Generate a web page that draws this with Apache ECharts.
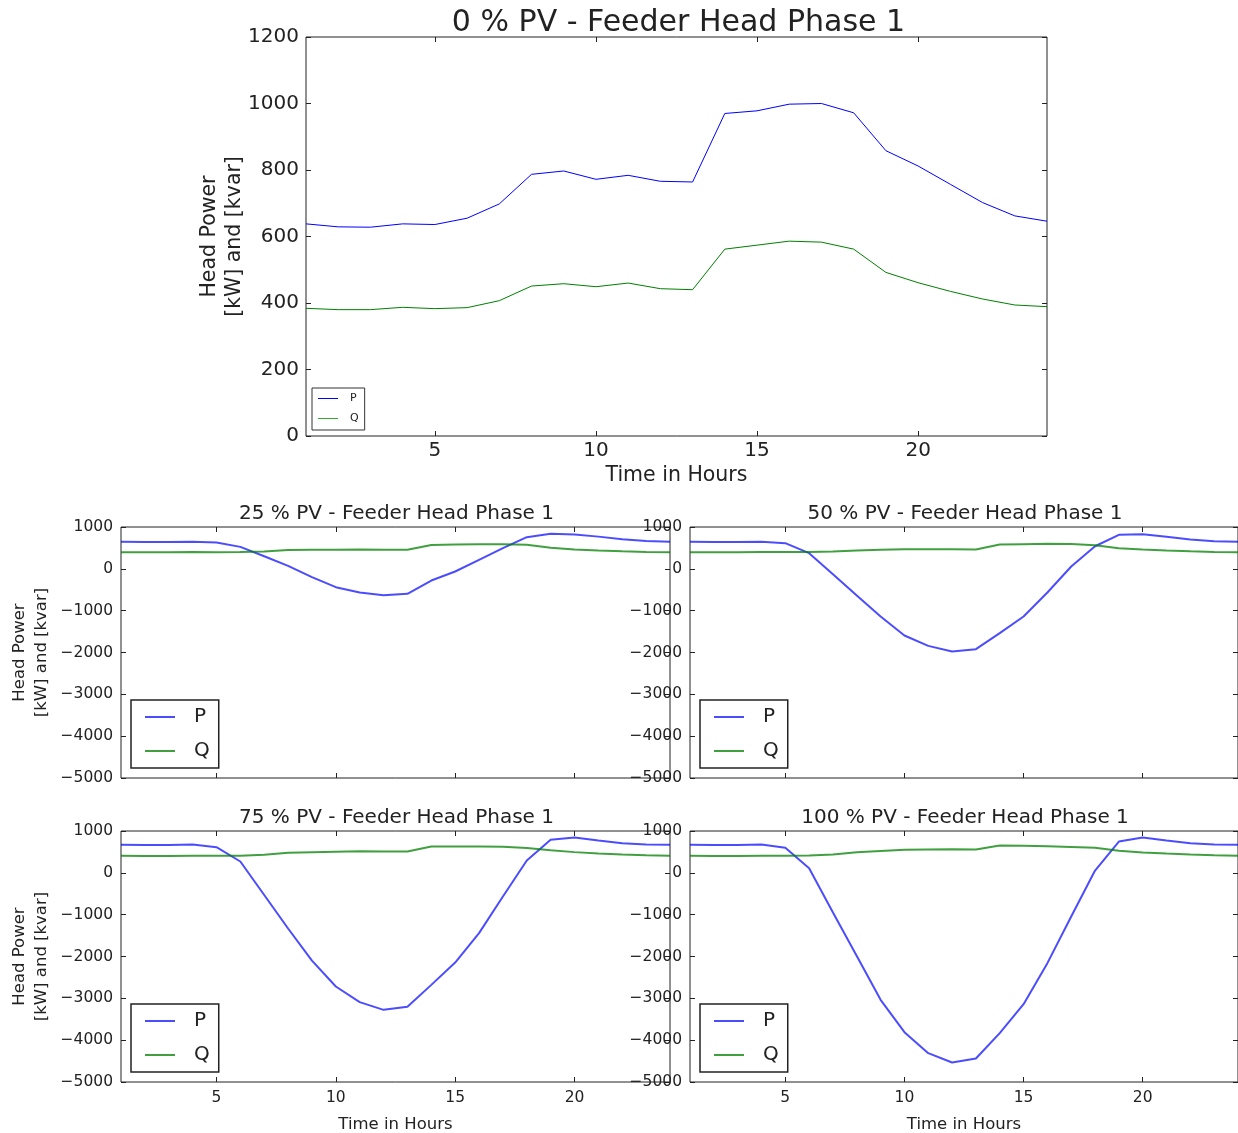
<!DOCTYPE html>
<html><head><meta charset="utf-8">
<script src="https://cdn.jsdelivr.net/npm/echarts@6/dist/echarts.min.js"></script>
<style>html,body{margin:0;padding:0;background:#fff}#c{width:1238px;height:1133px}</style>
</head><body><div id="c"></div>
<script>
const hours = [1,2,3,4,5,6,7,8,9,10,11,12,13,14,15,16,17,18,19,20,21,22,23,24];
const xTicks = [5,10,15,20];
const titles = ['0 % PV - Feeder Head Phase 1','25 % PV - Feeder Head Phase 1','50 % PV - Feeder Head Phase 1','75 % PV - Feeder Head Phase 1','100 % PV - Feeder Head Phase 1'];
const p0 = [638,629,628,638,636,655,698,787,797,772,784,766,764,970,978,998,1000,972,858,812,757,702,662,646];
const q0 = [384,380,380,387,383,386,407,451,458,449,460,443,440,562,574,586,583,562,492,461,435,412,394,389];
const p25 = [645,642,642,650,630,525,300,70,-200,-438,-566,-630,-598,-279,-64,215,494,757,837,821,770,710,665,645];
const q25 = [398,397,397,400,399,400,412,450,456,456,462,455,455,570,580,590,590,575,505,462,440,420,405,398];
const p50 = [645,642,642,650,614,375,-130,-640,-1140,-1594,-1841,-1976,-1920,-1538,-1140,-566,56,540,813,829,765,700,662,645];
const q50 = [399,398,398,400,400,402,415,440,455,470,470,468,462,582,590,598,592,566,494,462,440,420,405,399];
const p75 = [669,665,665,677,614,271,-530,-1330,-2100,-2718,-3091,-3275,-3203,-2678,-2144,-1442,-566,294,789,844,772,709,677,669];
const q75 = [406,405,405,408,407,410,430,478,495,505,515,512,508,628,630,628,622,595,540,495,465,440,420,406];
const p100 = [669,665,665,677,598,111,-950,-1990,-3036,-3809,-4311,-4535,-4439,-3832,-3139,-2159,-1045,55,748,844,772,709,677,669];
const q100 = [406,405,405,408,407,412,440,494,522,550,560,566,558,653,645,637,620,600,526,486,460,438,420,406];
const yTopTicks = [0,200,400,600,800,1000,1200];
const yBotTicks = [-5000,-4000,-3000,-2000,-1000,0,1000];

const P = [p0,p25,p50,p75,p100];
const Q = [q0,q25,q50,q75,q100];

const FONT = 'DejaVu Sans';
const TXT = '#222';
const grids = [
  {left:306, top:37, width:741, height:399},
  {left:121, top:527, width:549, height:251},
  {left:690, top:527, width:548, height:251},
  {left:121, top:831, width:549, height:251},
  {left:690, top:831, width:548, height:251}
];
const minus = v => String(v).replace('-', '\u2212');

const option = {animation:false, backgroundColor:'#fff', grid:[], xAxis:[], yAxis:[], series:[], title:[], legend:[]};
grids.forEach((g,i)=>{
  const big = i===0;
  option.grid.push(Object.assign({show:true, borderColor:'#222', borderWidth:1, backgroundColor:'transparent',
    containLabel:false, outerBoundsMode:'none'}, g));
  const showXLabel = big || i>=3;
  const xb = {type:'value', gridIndex:i, min:1, max:24, position:'bottom',
    axisLine:{show:false, onZero:false}, splitLine:{show:false},
    axisTick:{show:true, inside:true, length:5, lineStyle:{color:'#222'}, customValues:xTicks},
    axisLabel:{show:showXLabel, customValues:xTicks, color:TXT, fontFamily:FONT, fontSize: big?20:15.5, margin: big?5:8},
    name: showXLabel ? 'Time in Hours' : '', nameLocation:'middle', nameGap: big?29:34, nameMoveOverlap:false,
    nameTextStyle:{color:TXT, fontFamily:FONT, fontSize: big?20.5:16.5}};
  const xt = {type:'value', gridIndex:i, min:1, max:24, position:'top',
    axisLine:{show:false, onZero:false}, splitLine:{show:false},
    axisTick:{show:true, inside:true, length:5, lineStyle:{color:'#222'}, customValues:xTicks},
    axisLabel:{show:false, customValues:xTicks}};
  option.xAxis.push(xb, xt);
  const ymin = big?0:-5000, ymax = big?1200:1000, yint = big?200:1000;
  const yl = {type:'value', gridIndex:i, min:ymin, max:ymax, interval:yint, position:'left',
    axisLine:{show:false, onZero:false}, splitLine:{show:false},
    axisTick:{show:true, inside:true, length:5, lineStyle:{color:'#222'}},
    axisLabel:{show:true, formatter:minus, color:TXT, fontFamily:FONT, fontSize: big?20:15.5, margin: big?7:8},
    name: (big || i===1 || i===3) ? 'Head Power\n[kW] and [kvar]' : '',
    nameLocation:'middle', nameRotate:90, nameGap: big?59:68, nameMoveOverlap:false,
    nameTextStyle:{color:TXT, fontFamily:FONT, fontSize: big?20.5:16.5, lineHeight: big?25:22}};
  const yr = {type:'value', gridIndex:i, min:ymin, max:ymax, interval:yint, position:'right',
    axisLine:{show:false, onZero:false}, splitLine:{show:false},
    axisTick:{show:true, inside:true, length:5, lineStyle:{color:'#222'}},
    axisLabel:{show:false}};
  option.yAxis.push(yl, yr);
  const pColor = big ? '#0000ff' : 'rgba(0,0,255,0.7)';
  const qColor = big ? '#008000' : 'rgba(0,128,0,0.75)';
  const lw = big ? 1 : 2;
  option.series.push({type:'line', name:'P', xAxisIndex:2*i, yAxisIndex:2*i, symbol:'none',
    data: hours.map((h,k)=>[h, P[i][k]]), lineStyle:{color:pColor, width:lw}, itemStyle:{color:pColor}});
  option.series.push({type:'line', name:'Q', xAxisIndex:2*i, yAxisIndex:2*i, symbol:'none',
    data: hours.map((h,k)=>[h, Q[i][k]]), lineStyle:{color:qColor, width:lw}, itemStyle:{color:qColor}});
  option.title.push({text:titles[i], left: g.left + g.width/2 - (big?3:4), top: big?3:(g.top-28), textAlign:'center',
    textStyle:{color:TXT, fontFamily:FONT, fontWeight:'normal', fontSize: big?30:20}});
  if (big) {
    option.legend.push({left:g.left+6, top:388, orient:'vertical', icon:'rect', itemWidth:20, itemHeight:1,
      itemGap:9, padding:[5,6,6,6], borderColor:'#333', borderWidth:1, backgroundColor:'#fff',
      textStyle:{fontFamily:FONT, fontSize:11, color:TXT, padding:[0,0,0,7]},
      selectedMode:false,
      data:[{name:'P', itemStyle:{color:'#0000ff'}},{name:'Q', itemStyle:{color:'#33aa33'}}]});
  } else {
    option.legend.push({left:g.left+10, top:g.top+173, orient:'vertical', icon:'rect', itemWidth:30, itemHeight:2,
      itemGap:14, padding:[7,9,7,14], borderColor:'#222', borderWidth:1.5, backgroundColor:'#fff',
      textStyle:{fontFamily:FONT, fontSize:20, color:TXT, padding:[0,0,0,14]},
      selectedMode:false,
      data:[{name:'P', itemStyle:{color:'rgba(0,0,255,0.7)'}},{name:'Q', itemStyle:{color:'rgba(0,128,0,0.75)'}}]});
  }
});
const chart = echarts.init(document.getElementById('c'), null, {renderer:'canvas'});
chart.setOption(option);
</script></body></html>
